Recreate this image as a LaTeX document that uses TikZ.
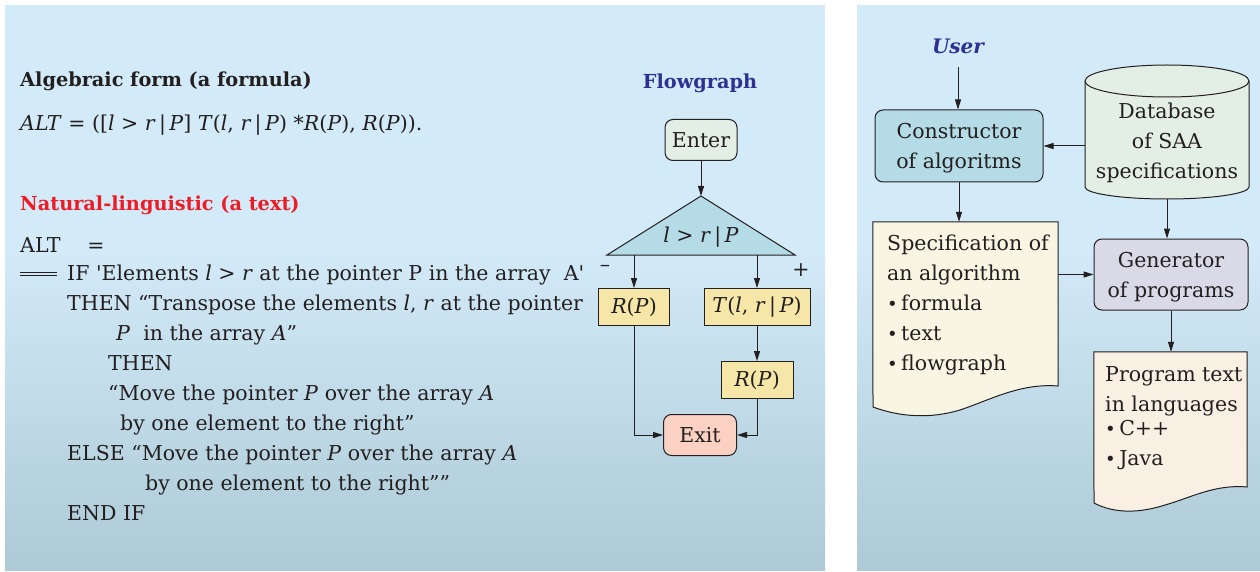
\documentclass[tikz,border=0pt]{standalone}
\usepackage{fontspec}
\setmainfont{DejaVu Serif}
\usetikzlibrary{arrows.meta}

\definecolor{ink}{HTML}{231F20}
\definecolor{bgtop}{HTML}{D3EAF8}
\definecolor{bgbot}{HTML}{ADCAD6}
\definecolor{headred}{HTML}{ED1C24}
\definecolor{headblue}{HTML}{2E3192}
\definecolor{greenbox}{HTML}{E3EFE4}
\definecolor{bluebox}{HTML}{B5DBE6}
\definecolor{yellowbox}{HTML}{F6E7A9}
\definecolor{pinkbox}{HTML}{FAD1C3}
\definecolor{greybox}{HTML}{D9D9E7}
\definecolor{creamdoc}{HTML}{F8F5E2}
\definecolor{peachdoc}{HTML}{F9EFE2}

\newcommand{\mv}[1]{\textit{#1}}
\newcommand{\bul}{{\fontsize{18}{18}\selectfont\textbullet}\,}
\newcommand{\vbr}{\,|\,}

\begin{document}
\begin{tikzpicture}[x=1pt,y=1pt,yscale=-1,
  every node/.style={text=ink, font=\fontsize{20.5}{30}\selectfont},
  head/.style={font=\fontsize{19.3}{30}\selectfont\bfseries},
  headit/.style={font=\fontsize{20}{30}\selectfont\bfseries\itshape},
  line/.style={anchor=base west, inner sep=0pt},
  box/.style={draw=ink, line width=1pt, inner sep=2pt},
  rbox/.style={box, rounded corners=8pt},
  arr/.style={draw=ink, line width=1pt, -{Triangle[length=10pt,width=6pt]}},
  wire/.style={draw=ink, line width=1pt}]
\useasboundingbox (0,0) rectangle (1260,572);

% panels
\fill[bgtop] (5,5) rectangle (825,250);
\shade[top color=bgtop, bottom color=bgbot] (5,249) rectangle (825,570);
\fill[bgtop] (857,5) rectangle (1260,250);
\shade[top color=bgtop, bottom color=bgbot] (857,249) rectangle (1260,570);

% formula
\node[line, head] (alghead) at (20,87) {Algebraic form (a formula)};
\node[line] (algform) at (20,131) {\mv{ALT} = ([\mv{l} > \mv{r}\vbr\mv{P}] \mv{T}(\mv{l}, \mv{r}\vbr\mv{P}) *\mv{R}(\mv{P}), \mv{R}(\mv{P})).};

% text
\node[line, head, text=headred] (nathead) at (20,211) {Natural-linguistic (a text)};
\node[line] (t1) at (20,252) {ALT\hspace{1.3em}=};
\draw[ink, line width=0.8pt] (20,272) -- (57,272) (20,275.5) -- (57,275.5);
\node[line] (t2) at (67,280) {IF \textquotesingle Elements \mv{l} > \mv{r} at the pointer P in the array\ \ A\textquotesingle};
\node[line] (t3) at (67,310) {THEN ``Transpose the elements \mv{l}, \mv{r} at the pointer};
\node[line] (t4) at (116,340) {\mv{P}\ \ in the array \mv{A}''};
\node[line] (t5) at (108,370) {THEN};
\node[line] (t6) at (108,400) {``Move the pointer \mv{P} over the array \mv{A}};
\node[line] (t7) at (120,430) {by one element to the right''};
\node[line] (t8) at (67,460) {ELSE ``Move the pointer \mv{P} over the array \mv{A}};
\node[line] (t9) at (145,490) {by one element to the right''''};
\node[line] (t10) at (67,520) {END IF};

% flowgraph
\node[head, text=headblue] (fghead) at (700,83) {Flowgraph};
\node[rbox, fill=greenbox, minimum width=72, minimum height=41] (enter) at (701,140) {Enter};
\coordinate (apex) at (701,196);
\coordinate (negl) at (607,255);
\coordinate (posr) at (795,255);
\draw[wire, fill=bluebox] (apex) -- (posr) -- (negl) -- cycle;
\node (cond) at (701,237) {\mv{l} > \mv{r}\vbr\mv{P}};
\node (minus) at (605,268) {\textendash};
\node (plus) at (801,270) {+};
\node[box, fill=yellowbox, minimum width=71, minimum height=37] (rleft) at (634,307) {\mv{R}(\mv{P})};
\node[box, fill=yellowbox, minimum width=106, minimum height=37] (tnode) at (757,307) {\mv{T}(\mv{l}, \mv{r}\vbr\mv{P})};
\node[box, fill=yellowbox, minimum width=72, minimum height=37] (rright) at (757,380) {\mv{R}(\mv{P})};
\node[rbox, fill=pinkbox, minimum width=73, minimum height=41] (exit) at (700,435) {Exit};
\draw[arr] (enter) -- (apex);
\draw[arr] (rleft.north |- negl) -- (rleft.north);
\draw[arr] (tnode.north |- posr) -- (tnode.north);
\draw[arr] (tnode) -- (rright);
\draw[arr] (rleft.south) |- (exit.west);
\draw[arr] (rright.south) |- (exit.east);

% system
\node[headit, text=headblue] (user) at (958,46) {User};
\node[rbox, fill=bluebox, minimum width=168, minimum height=72, align=center, text depth=0pt] (con) at (959,146) {Constructor\\of algoritms};
\draw[arr, shorten <=10pt] (user.south) -- (con.north -| user.south);

% database
\node[minimum width=164, minimum height=134, inner sep=0pt] (db) at (1167,132) {};
\draw[wire, fill=greenbox] (1085,81) -- (1085,187) arc[start angle=180, end angle=0, x radius=82, y radius=12]
  -- (1249,81) arc[start angle=0, end angle=-180, x radius=82, y radius=16] -- cycle;
\draw[wire] (1085,81) arc[start angle=180, end angle=0, x radius=82, y radius=16];
\node[align=center] (dbtext) at (1167,143) {Database\\of SAA\\specifications};
\draw[arr] (db.west |- con.east) -- (con.east);

% specification
\node[minimum width=185, minimum height=193, inner sep=0pt] (spec) at (965.5,318.5) {};
\draw[wire, fill=creamdoc] (spec.north west) -- (spec.north east) -- (1058,386)
  .. controls (1020,383) and (990,400) .. (960,410)
  .. controls (930,419) and (900,417) .. (873,407) -- cycle;
\node[line] (s1) at (887,250) {Specification of};
\node[line] (s2) at (887,280) {an algorithm};
\node[line] (s3) at (887,310) {\bul formula};
\node[line] (s4) at (887,340) {\bul text};
\node[line] (s5) at (887,370) {\bul flowgraph};
\draw[arr] (con) -- (con.south |- spec.north);

% generator
\node[rbox, fill=greybox, minimum width=154, minimum height=71, align=center, text depth=0pt] (gen) at (1171,274.5) {Generator\\of programs};
\draw[arr] (db.south) -- (db.south |- gen.north);
\draw[arr] (spec.east |- gen.west) -- (gen.west);

% program text
\node[minimum width=153, minimum height=160, inner sep=0pt] (prog) at (1170.5,432) {};
\draw[wire, fill=peachdoc] (prog.north west) -- (prog.north east) -- (1247,487)
  .. controls (1215,484) and (1190,498) .. (1165,505)
  .. controls (1140,513) and (1115,514) .. (1094,503) -- cycle;
\node[line] (p1) at (1105,381) {Program text};
\node[line] (p2) at (1105,411) {in languages};
\node[line] (p3) at (1105,435) {\bul C++};
\node[line] (p4) at (1105,465) {\bul Java};
\draw[arr] (gen) -- (gen.south |- prog.north);

\end{tikzpicture}
\end{document}
